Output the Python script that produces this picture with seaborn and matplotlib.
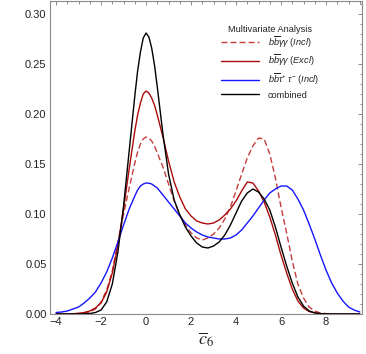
import matplotlib
matplotlib.use("Agg")
import matplotlib.pyplot as plt
from matplotlib.ticker import MultipleLocator, FormatStrFormatter
import seaborn as sns
import pandas as pd

# ---- data ----
c6 = [-4, -3.75, -3.5, -3.25, -3, -2.75, -2.5, -2.25, -2, -1.75, -1.5, -1.25, -1, -0.75, -0.5,
      -0.375, -0.25, -0.125, 0, 0.125, 0.25, 0.375,
      0.5, 0.75, 1, 1.25, 1.5, 1.75, 2, 2.25, 2.5, 2.75, 3, 3.25, 3.5, 3.75, 4, 4.25, 4.5, 4.75,
      5, 5.25, 5.5, 5.75, 6, 6.25, 6.5, 6.75, 7, 7.25, 7.5, 7.75, 8, 8.25, 8.5, 8.75, 9, 9.25, 9.5]

bbgg_incl = [0, 0, 0.0001, 0.0002, 0.0004, 0.0008, 0.002, 0.005, 0.012, 0.024, 0.043, 0.072, 0.100, 0.126, 0.151,
             0.162, 0.170, 0.175, 0.177, 0.176, 0.173, 0.168,
             0.161, 0.147, 0.130, 0.113, 0.099, 0.089, 0.081, 0.076, 0.074, 0.076, 0.080, 0.086, 0.095, 0.107,
             0.123, 0.140, 0.156, 0.168, 0.176, 0.175, 0.160, 0.136, 0.107, 0.081, 0.053, 0.030, 0.016, 0.007,
             0.003, 0.001, 0.0004, 0.0001, 0, 0, 0, 0, 0]

bbgg_excl = [0, 0, 0.0001, 0.0003, 0.0007, 0.0015, 0.003, 0.006, 0.011, 0.022, 0.041, 0.069, 0.105, 0.145, 0.183,
             0.199, 0.211, 0.220, 0.223, 0.221, 0.216, 0.209,
             0.199, 0.177, 0.153, 0.132, 0.117, 0.105, 0.098, 0.093, 0.091, 0.090, 0.091, 0.094, 0.099, 0.105,
             0.113, 0.123, 0.132, 0.131, 0.123, 0.112, 0.097, 0.079, 0.059, 0.041, 0.025, 0.013, 0.006, 0.0025,
             0.001, 0.0004, 0.0001, 0, 0, 0, 0, 0, 0]

bbtt_incl = [0.0015, 0.002, 0.003, 0.005, 0.007, 0.011, 0.016, 0.022, 0.031, 0.042, 0.056, 0.072, 0.089, 0.105, 0.118,
             0.124, 0.128, 0.130, 0.131, 0.1308, 0.130, 0.128,
             0.126, 0.119, 0.112, 0.105, 0.098, 0.091, 0.086, 0.082, 0.079, 0.077, 0.076, 0.075, 0.075, 0.076,
             0.079, 0.084, 0.091, 0.098, 0.106, 0.114, 0.121, 0.125, 0.128, 0.128, 0.124, 0.115, 0.104, 0.090,
             0.075, 0.059, 0.044, 0.031, 0.021, 0.013, 0.007, 0.004, 0.002]

combined = [0, 0, 0, 0, 0.0001, 0.0002, 0.0005, 0.0015, 0.004, 0.012, 0.030, 0.062, 0.108, 0.163, 0.218,
            0.243, 0.262, 0.276, 0.281, 0.277, 0.266, 0.249,
            0.227, 0.180, 0.140, 0.114, 0.099, 0.087, 0.078, 0.071, 0.067, 0.066, 0.068, 0.072, 0.079, 0.089,
            0.101, 0.113, 0.121, 0.125, 0.122, 0.115, 0.104, 0.087, 0.067, 0.048, 0.031, 0.017, 0.008, 0.003,
            0.0012, 0.0004, 0.0001, 0, 0, 0, 0, 0, 0]

labels = [r"$b\overline{b}\gamma\gamma\ (Incl)$",
          r"$b\overline{b}\gamma\gamma\ (Excl)$",
          r"$b\overline{b}\tau^{+}\,\tau^{-}\ (Incl)$",
          "combined"]
legend_title = "Multivariate Analysis"
x_label = r"$\overline{c}_{6}$"

# ---- style ----
sns.set_theme(style="white")
plt.rcParams["font.family"] = ["Liberation Sans", "DejaVu Sans"]
plt.rcParams["mathtext.fontset"] = "custom"
plt.rcParams["mathtext.it"] = "Liberation Sans:italic"
plt.rcParams["mathtext.rm"] = "Liberation Sans"
plt.rcParams["mathtext.bf"] = "Liberation Sans:bold"

fig = plt.figure(figsize=(3.66, 3.54), dpi=100)
ax = fig.add_axes([50 / 366, 40 / 354, 312 / 366, 313 / 354])

df = pd.DataFrame({"c6": c6, "incl": bbgg_incl, "excl": bbgg_excl, "tt": bbtt_incl, "comb": combined})

sns.lineplot(data=df, x="c6", y="incl", ax=ax, color="#C43C3C", linewidth=1.0,
             linestyle=(0, (4.3, 2.2)), label=labels[0])
sns.lineplot(data=df, x="c6", y="excl", ax=ax, color="#AA0A0A", linewidth=1.0, label=labels[1])
sns.lineplot(data=df, x="c6", y="tt", ax=ax, color="#1515FF", linewidth=1.0, label=labels[2])
sns.lineplot(data=df, x="c6", y="comb", ax=ax, color="#000000", linewidth=1.0, label=labels[3])

ax.set_xlim(-4.27, 9.6)
ax.set_ylim(0, 0.313)
ax.xaxis.set_major_locator(MultipleLocator(2))
ax.xaxis.set_minor_locator(MultipleLocator(0.5))
ax.yaxis.set_major_locator(MultipleLocator(0.05))
ax.yaxis.set_minor_locator(MultipleLocator(0.01))
ax.yaxis.set_major_formatter(FormatStrFormatter("%.2f"))
ax.tick_params(which="both", direction="in", top=True, right=True, color="#8a8a8a",
               labelsize=8, labelcolor="#222222", width=0.7)
ax.tick_params(which="major", length=3.2, pad=2.5)
ax.tick_params(which="minor", length=1.8)
for s in ax.spines.values():
    s.set_color("#8a8a8a")
    s.set_linewidth(0.8)

ax.set_ylabel("")
ax.set_xlabel(x_label, fontsize=13, math_fontfamily="stix", labelpad=2, color="#222222")

leg = ax.legend(title=legend_title, loc="upper left", bbox_to_anchor=(0.548, 0.922),
                frameon=False, fontsize=6.6, title_fontsize=6.6, handlelength=4.1,
                handletextpad=1.0, labelspacing=0.38, borderpad=0, borderaxespad=0)
leg._legend_box.sep = 0
leg.get_title().set_color("#222222")
for t in leg.get_texts():
    t.set_color("#222222")

fig.savefig("out.png", dpi=100)
